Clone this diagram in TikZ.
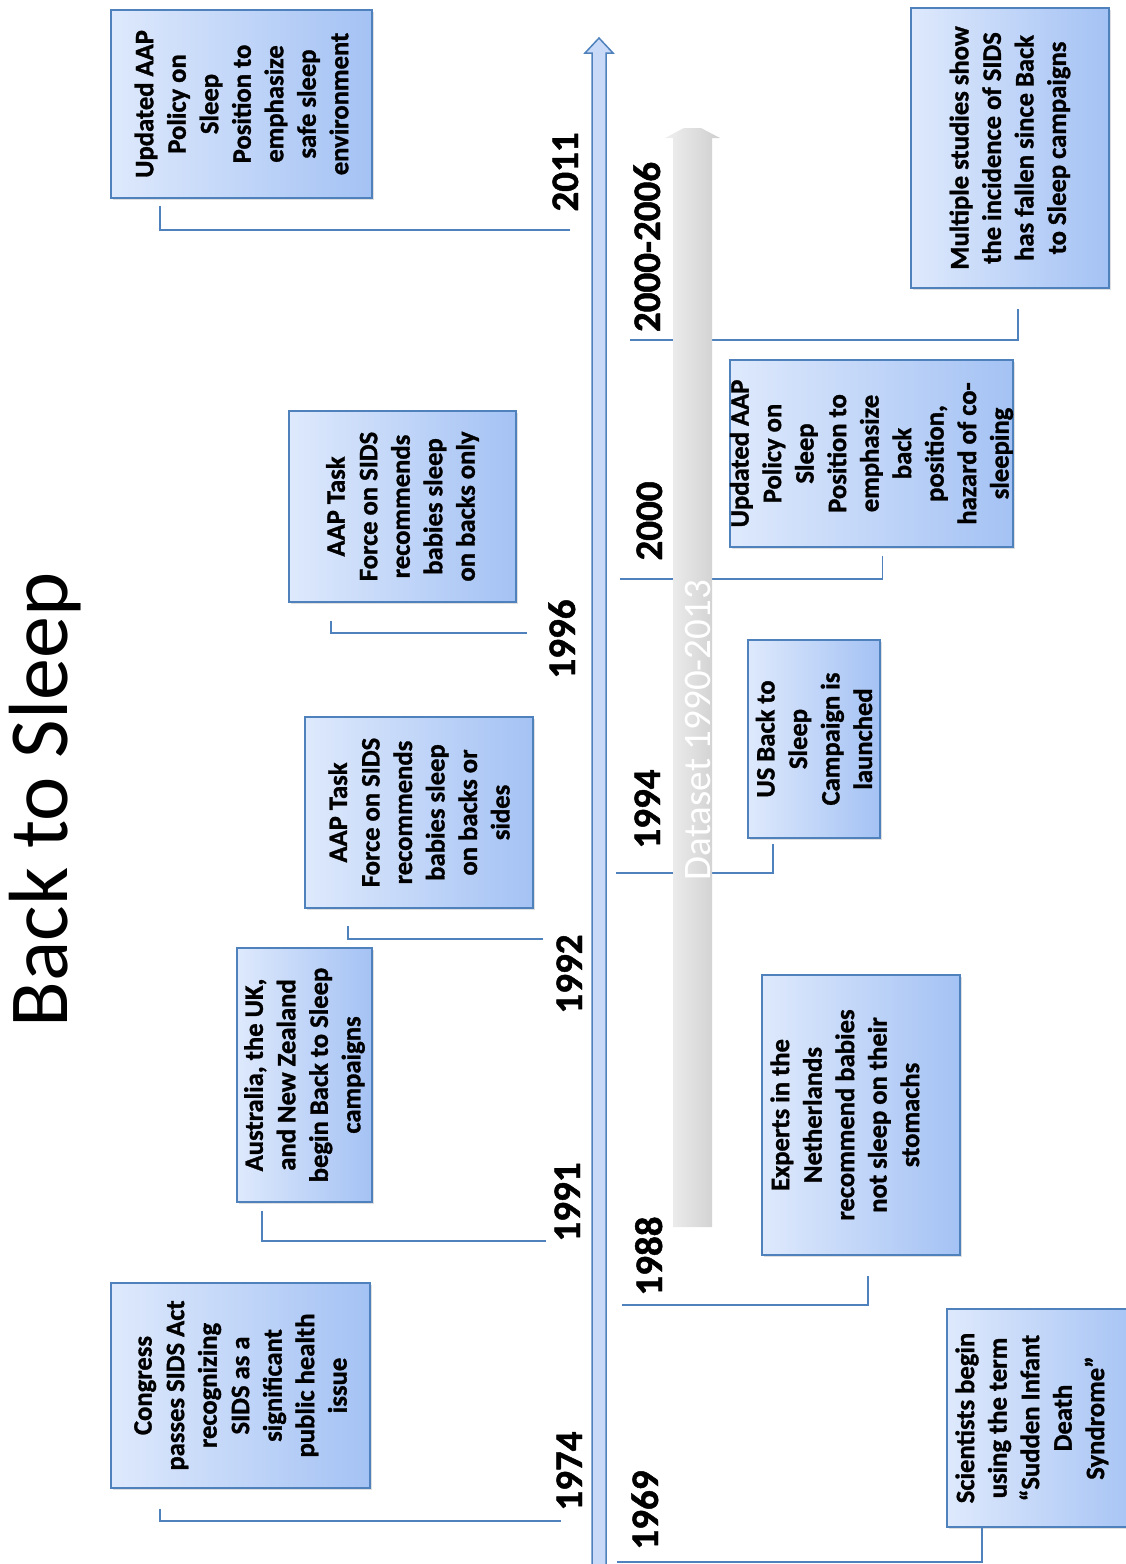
\documentclass[tikz,border=0pt]{standalone}
\usepackage{fontspec}
\setmainfont{Carlito}[BoldFont={Carlito Bold},BoldFeatures={FakeBold=1.2}]
\usetikzlibrary{calc,shadows}
\definecolor{accent}{HTML}{4F81BD}
\definecolor{boxlight}{HTML}{DEE9FC}
\definecolor{boxdark}{HTML}{A4C2F4}
\definecolor{arrowfill}{HTML}{C9DAF8}

\begin{document}
\begin{tikzpicture}[x=.5pt,y=-.5pt,
  event/.style={draw=accent,line width=.75pt,rotate=90,inner sep=0pt,left color=boxlight,right color=boxdark,
    align=center,font=\fontsize{13.3}{16.25}\selectfont\bfseries,drop shadow={opacity=.25,shadow xshift=1pt,shadow yshift=-1pt}},
  yearlbl/.style={rotate=90,anchor=base,font=\fontsize{19.5}{23}\selectfont\bfseries},
  link/.style={draw=accent,line width=.9pt}]
 \useasboundingbox (0,0) rectangle (1125,1564);
 % time axis
 \draw[draw=accent,fill=arrowfill,line width=.75pt] (592,1570)--(592,53)--(585,53)--(599,38)--(613,53)--(606,53)--(606,1570)--cycle;
 % events above the axis
 \node[event,minimum width=94pt,minimum height=130.5pt] (b2011) at (241.5,104) {Updated AAP\\Policy on\\Sleep\\Position to\\emphasize\\safe sleep\\environment};
 \node[event,minimum width=95.5pt,minimum height=113.5pt] (b1996) at (402.5,506.5) {AAP Task\\Force on SIDS\\recommends\\babies sleep\\on backs only};
 \node[event,minimum width=95.5pt,minimum height=114pt] (b1992) at (419,812.5) {AAP Task\\Force on SIDS\\recommends\\babies sleep\\on backs or\\sides};
 \node[event,minimum width=127pt,minimum height=67.5pt] (b1991) at (304.5,1075) {Australia, the UK,\\and New Zealand\\begin Back to Sleep\\campaigns};
 \node[event,minimum width=102.5pt,minimum height=129.5pt] (b1974) at (240.5,1385.5) {Congress\\passes SIDS Act\\recognizing\\SIDS as a\\significant\\public health\\issue};
 % events below the axis
 \node[event,minimum width=140pt,minimum height=99pt] (b0006) at (1010,148) {Multiple studies show\\the incidence of SIDS\\has fallen since Back\\to Sleep campaigns};
 \node[event,minimum width=93.5pt,minimum height=138.5pt] (b2000) at (871.5,453.5) {Updated AAP\\Policy on\\Sleep\\Position to\\emphasize\\back\\position,\\hazard of co-\\sleeping};
 \node[event,minimum width=99pt,minimum height=66pt] (b1994) at (814,739) {US Back to\\Sleep\\Campaign is\\launched};
 \node[event,minimum width=140pt,minimum height=99pt] (b1988) at (861,1115) {Experts in the\\Netherlands\\recommend babies\\not sleep on their\\stomachs\\\mbox{}};
 \node[event,minimum width=109pt,minimum height=99pt] (b1969) at (1046,1418) {Scientists begin\\using the term\\“Sudden Infant\\Death\\Syndrome”\\\mbox{}};
 % years
 \node[yearlbl] (y2011) at (578,172) {2011};
 \node[yearlbl] (y1996) at (575,639) {1996};
 \node[yearlbl] (y1992) at (582,974) {1992};
 \node[yearlbl] (y1991) at (580,1202) {1991};
 \node[yearlbl] (y1974) at (582,1471) {1974};
 \node[yearlbl] (y0006) at (660,247) {2000-2006};
 \node[yearlbl] (y2000) at (662,521) {2000};
 \node[yearlbl] (y1994) at (660,809) {1994};
 \node[yearlbl] (y1988) at (662,1256) {1988};
 \node[yearlbl] (y1969) at (658,1510) {1969};
 % ends of the links on the axis
 \coordinate (t2011) at (570,230);\coordinate (t1996) at (527,633);\coordinate (t1992) at (543,939);
 \coordinate (t1991) at (546,1241);\coordinate (t1974) at (561,1521);
 \coordinate (t0006) at (630,340);\coordinate (t2000) at (620,579);\coordinate (t1994) at (616,873);
 \coordinate (t1988) at (622,1305);\coordinate (t1969) at (617,1562);
 \draw[link] (b2011.west) ++(-81.5,7) |- (t2011);
 \draw[link] (b1996.west) ++(-71.5,18) |- (t1996);
 \draw[link] (b1992.west) ++(-71,17) |- (t1992);
 \draw[link] (b1991.west) ++(-42.5,8) |- (t1991);
 \draw[link] (b1974.west) ++(-80.5,20) |- (t1974);
 \draw[link] (b0006.west) ++(8,20) |- (t0006);
 \draw[link] (b2000.west) ++(11,8) |- (t2000);
 \draw[link] (b1994.west) ++(-41,5) |- (t1994);
 \draw[link] (b1988.west) ++(7,20) |- (t1988);
 \draw[link] (b1969.west) ++(-64,0) |- (t1969);
 % dataset span
 \shade[left color=gray!12,right color=gray!38] (673,1227)--(673,138)--(665,138)--(684,128)--(701,128)--(720,138)--(712,138)--(712,1227)--cycle;
 \node[rotate=90,anchor=base,text=white,font=\fontsize{19.5}{23}\selectfont] (span) at (710,730) {Dataset 1990-2013};
 \node[rotate=90,anchor=base,font=\fontsize{42}{50}\selectfont] (title) at (67,800) {Back to Sleep};
\end{tikzpicture}
\end{document}
